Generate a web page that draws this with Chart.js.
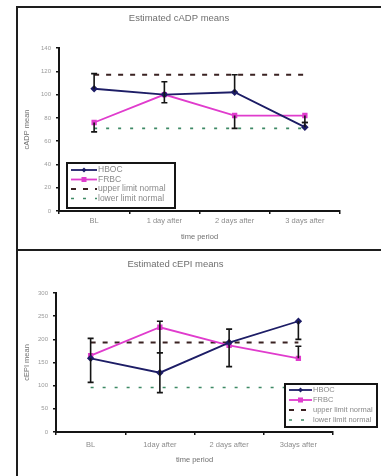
<!DOCTYPE html>
<html>
<head>
<meta charset="utf-8">
<script src="https://cdn.jsdelivr.net/npm/chart.js@4/dist/chart.umd.min.js"></script>
<style>
  html, body { margin: 0; padding: 0; background: #fff; }
  #wrap { position: relative; width: 381px; height: 476px; overflow: hidden; background: #fff; }
  .rule { position: absolute; background: #1e1e1e; }
  canvas { position: absolute; }
</style>
</head>
<body>
<div id="wrap">
  <div class="rule" style="left:16px;top:6px;width:365px;height:2px"></div>
  <div class="rule" style="left:16px;top:6px;width:2px;height:470px"></div>
  <div class="rule" style="left:16px;top:249px;width:365px;height:2px"></div>
  <canvas id="adp" width="363" height="241" style="left:18px;top:8px"></canvas>
  <canvas id="epi" width="363" height="225" style="left:18px;top:251px"></canvas>
</div>
<script>
// ---- cADP panel ----
const adpPeriods = ["BL", "1 day after", "2 days after", "3 days after"];
const adpHBOC = [105, 100, 102, 72];
const adpHBOCPlus = [13, 11, 15, 4];
const adpHBOCMinus = [0, 0, 0, 0];
const adpFRBC = [76, 100, 82, 82];
const adpFRBCPlus = [0, 0, 0, 0];
const adpFRBCMinus = [8, 7, 11, 6];
const adpUpper = [117, 117, 117, 117];
const adpLower = [71, 71, 71, 71];
const adpTicks = { min: 0, max: 140, step: 20 };

// ---- cEPI panel ----
const epiPeriods = ["BL", "1day after", "2 days after", "3days after"];
const epiHBOC = [159, 128, 193, 239];
const epiHBOCPlus = [0, 43, 29, 0];
const epiHBOCMinus = [52, 43, 0, 39];
const epiFRBC = [165, 226, 187, 159];
const epiFRBCPlus = [37, 13, 0, 26];
const epiFRBCMinus = [0, 55, 46, 0];
const epiUpper = [193, 193, 193, 193];
const epiLower = [96, 96, 96, 96];
const epiTicks = { min: 0, max: 300, step: 50 };

const NAVY = "#1d1d66";
const PINK = "#e03ccd";
const UPPER = "#3a2222";
const LOWER = "#3f8a66";
const FONT = "'Liberation Sans', Arial, sans-serif";

// vertical error bars drawn through the y scale from each dataset's plus/minus arrays
const errorBars = {
  id: "errorBars",
  afterDatasetsDraw(chart) {
    const { ctx } = chart;
    const ys = chart.scales.y;
    chart.data.datasets.forEach((ds, i) => {
      if (!ds.errPlus) return;
      const meta = chart.getDatasetMeta(i);
      meta.data.forEach((pt, j) => {
        const v = ds.data[j];
        const p = ds.errPlus[j], m = ds.errMinus[j];
        if (!p && !m) return;
        const yh = ys.getPixelForValue(v + p);
        const yl = ys.getPixelForValue(v - m);
        ctx.save();
        ctx.strokeStyle = "#141414";
        ctx.lineWidth = 1.6;
        ctx.beginPath();
        ctx.moveTo(pt.x, yh);
        ctx.lineTo(pt.x, yl);
        if (p) { ctx.moveTo(pt.x - 3, yh); ctx.lineTo(pt.x + 3, yh); }
        if (m) { ctx.moveTo(pt.x - 3, yl); ctx.lineTo(pt.x + 3, yl); }
        ctx.stroke();
        ctx.restore();
      });
    });
  }
};

// boxed legend listing every dataset with its line sample
const boxLegend = {
  id: "boxLegend",
  afterDraw(chart, args, o) {
    const { ctx } = chart;
    ctx.save();
    ctx.fillStyle = "#fff";
    ctx.fillRect(o.x, o.y, o.w, o.h);
    ctx.lineWidth = 2;
    ctx.strokeStyle = "#151515";
    ctx.strokeRect(o.x, o.y, o.w, o.h);
    chart.data.datasets.forEach((ds, i) => {
      const cy = o.y + o.first + i * o.row;
      const x0 = o.x + 4, x1 = x0 + o.sample;
      ctx.setLineDash(ds.borderDash || []);
      ctx.strokeStyle = ds.borderColor;
      ctx.lineWidth = ds.borderWidth;
      ctx.beginPath();
      ctx.moveTo(x0, cy);
      ctx.lineTo(x1, cy);
      ctx.stroke();
      ctx.setLineDash([]);
      if (ds.pointRadius > 0) {
        const mx = (x0 + x1) / 2, r = ds.pointRadius;
        ctx.fillStyle = ds.pointBackgroundColor;
        if (ds.pointStyle === "rectRot") {
          ctx.beginPath();
          ctx.moveTo(mx, cy - r); ctx.lineTo(mx + r, cy); ctx.lineTo(mx, cy + r); ctx.lineTo(mx - r, cy);
          ctx.closePath(); ctx.fill();
        } else {
          ctx.fillRect(mx - r, cy - r, 2 * r, 2 * r);
        }
      }
      ctx.fillStyle = "#8a8a8a";
      ctx.font = o.fontSize + "px " + FONT;
      ctx.textBaseline = "middle";
      ctx.fillText(ds.label, x1 + 1, cy);
    });
    ctx.restore();
  }
};

function datasets(h, hp, hm, f, fp, fm, up, lo) {
  return [
    { label: "HBOC", data: h, errPlus: hp, errMinus: hm, borderColor: NAVY, backgroundColor: NAVY,
      pointBackgroundColor: NAVY, pointBorderColor: NAVY, borderWidth: 1.8, pointStyle: "rectRot", pointRadius: 2.5 },
    { label: "FRBC", data: f, errPlus: fp, errMinus: fm, borderColor: PINK, backgroundColor: PINK,
      pointBackgroundColor: PINK, pointBorderColor: PINK, borderWidth: 1.8, pointStyle: "rect", pointRadius: 2.5 },
    { label: "upper limit normal", data: up, borderColor: UPPER, borderWidth: 2, borderDash: [5, 7], pointRadius: 0 },
    { label: "lower limit normal", data: lo, borderColor: LOWER, borderWidth: 1.6, borderDash: [3, 9], pointRadius: 0 }
  ];
}

function makeChart(id, cfg) {
  return new Chart(document.getElementById(id), {
    type: "line",
    data: { labels: cfg.labels, datasets: cfg.datasets },
    plugins: [errorBars, boxLegend],
    options: {
      responsive: false,
      animation: false,
      layout: { padding: cfg.padding },
      elements: { line: { tension: 0 } },
      plugins: {
        legend: { display: false },
        tooltip: { enabled: false },
        title: {
          display: true, text: cfg.title, color: "#6f6f6f",
          font: { family: FONT, size: 9.5, weight: "normal" },
          padding: { top: cfg.titleTop, bottom: cfg.titleBottom }
        },
        boxLegend: cfg.legend
      },
      scales: {
        x: {
          type: "category",
          offset: true,
          afterFit: s => { s.height = cfg.xHeight; },
          grid: { offset: true, drawOnChartArea: false, drawTicks: true, tickLength: 3, color: "#151515", lineWidth: 1.5 },
          border: { color: "#151515", width: 2 },
          ticks: { color: "#8d8d8d", font: { family: FONT, size: 7.5 }, padding: cfg.xPad, maxRotation: 0 },
          title: { display: true, text: "time period", color: "#6f6f6f", font: { family: FONT, size: 7.5 }, padding: { top: 2, bottom: 4 } }
        },
        y: {
          min: cfg.ticks.min, max: cfg.ticks.max,
          afterFit: s => { s.width = cfg.yWidth; },
          grid: { drawOnChartArea: false, drawTicks: true, tickLength: 3, color: "#151515", lineWidth: 1.5 },
          border: { color: "#151515", width: 2 },
          ticks: { stepSize: cfg.ticks.step, color: "#9a9a9a", font: { family: FONT, size: 6 }, padding: 5 },
          title: { display: true, text: cfg.yTitle, color: "#707070", font: { family: FONT, size: 7.5 }, padding: { top: 4, bottom: 2 } }
        }
      }
    }
  });
}

makeChart("adp", {
  labels: adpPeriods,
  datasets: datasets(adpHBOC, adpHBOCPlus, adpHBOCMinus, adpFRBC, adpFRBCPlus, adpFRBCMinus, adpUpper, adpLower),
  title: "Estimated cADP means",
  yTitle: "cADP mean",
  ticks: adpTicks,
  titleTop: 5, titleBottom: 23.6,
  padding: { left: 0, right: 41, top: 0, bottom: 4 },
  xHeight: 34, yWidth: 41, xPad: 2,
  legend: { x: 49, y: 155, w: 108, h: 45, first: 7, row: 9.5, sample: 26, fontSize: 8.5 }
});

makeChart("epi", {
  labels: epiPeriods,
  datasets: datasets(epiHBOC, epiHBOCPlus, epiHBOCMinus, epiFRBC, epiFRBCPlus, epiFRBCMinus, epiUpper, epiLower),
  title: "Estimated cEPI means",
  yTitle: "cEPI mean",
  ticks: epiTicks,
  titleTop: 8, titleBottom: 22.6,
  padding: { left: 0, right: 48, top: 0, bottom: 8 },
  xHeight: 36, yWidth: 38, xPad: 5,
  legend: { x: 267, y: 133, w: 92, h: 43, first: 6, row: 10, sample: 23, fontSize: 7.5 }
});
</script>
</body>
</html>
